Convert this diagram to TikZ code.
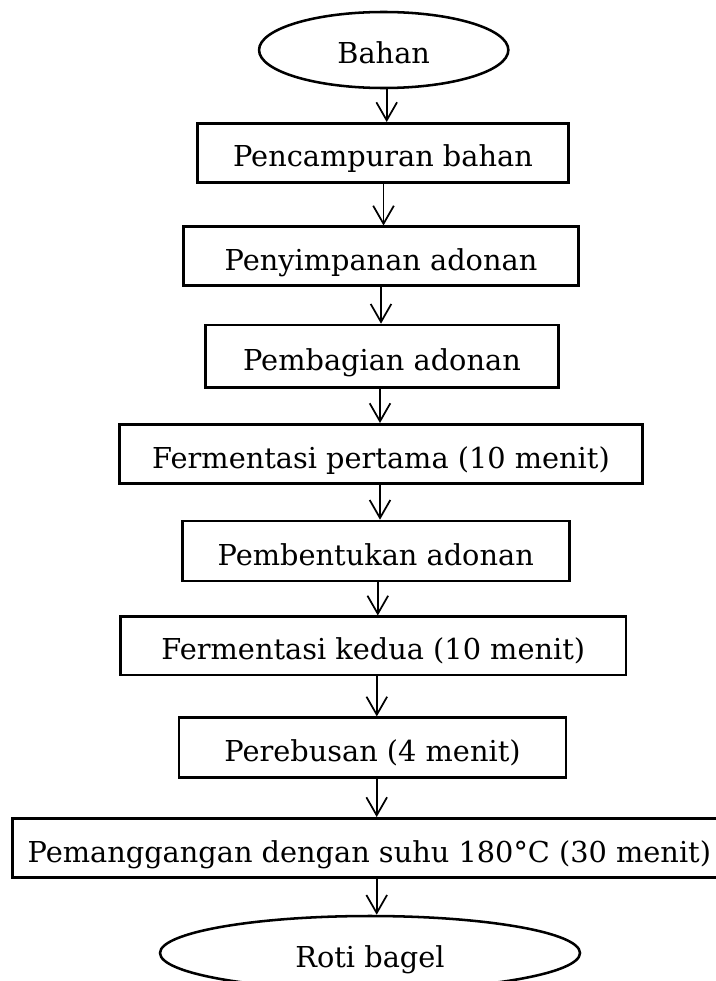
\documentclass[tikz,border=0pt]{standalone}
\usepackage{fontspec}
\setmainfont{DejaVu Serif}
\usetikzlibrary{arrows.meta,shapes.geometric,calc}
\begin{document}
\begin{tikzpicture}[x=0.75pt,y=-0.75pt,
  txt/.style={font=\fontsize{21.6}{26}\selectfont, text height=21pt, text depth=0pt, inner sep=0pt},
  stepbox/.style 2 args={draw, line width=1.9pt, rectangle, txt, minimum width={#1*0.75pt}, minimum height={#2*0.75pt}},
  oval/.style 2 args={draw, line width=1.9pt, ellipse, txt, minimum width={#1*0.75pt}, minimum height={#2*0.75pt}},
  arr/.style={line width=1.3pt, -{Straight Barb[length=13.5pt,width=15.5pt]}}]
\clip (0,0) rectangle (716,981);
\fill[white] (0,0) rectangle (716,981);
\node[oval={249.3}{76}] (t) at (383.7,50) {Bahan};
\node[stepbox={370.6}{59}] (b1) at (383,152.8) {Pencampuran bahan};
\node[stepbox={394.6}{58.5}] (b2) at (381,256) {Penyimpanan adonan};
\node[stepbox={352.6}{62.7}] (b3) at (382,356.3) {Pembagian adonan};
\node[stepbox={523.4}{59.4}] (b4) at (381,454) {Fermentasi pertama (10 menit)};
\node[stepbox={387}{60}] (b5) at (375.8,551) {Pembentukan adonan};
\node[stepbox={505.3}{58.3}] (b6) at (373.3,645.9) {Fermentasi kedua (10 menit)};
\node[stepbox={387}{60}] (b7) at (372.5,747.7) {Perebusan (4 menit)};
\node[stepbox={714.2}{59.4}] (b8) at (369.4,848) {Pemanggangan dengan suhu 180°C (30 menit)};
\node[oval={420}{74}] (e) at (370,953) {Roti bagel};
\foreach \a/\b/\s in {t/b1/3, b1/b2/0.5, b2/b3/0, b3/b4/-2, b4/b5/-1, b5/b6/2, b6/b7/3.5, b7/b8/4.2, b8/e/7.3}{
  \coordinate (s) at ($(\a.south)+(\s,0)$);
  \draw[arr] (s) -- (s |- \b.north);
}
\end{tikzpicture}
\end{document}
